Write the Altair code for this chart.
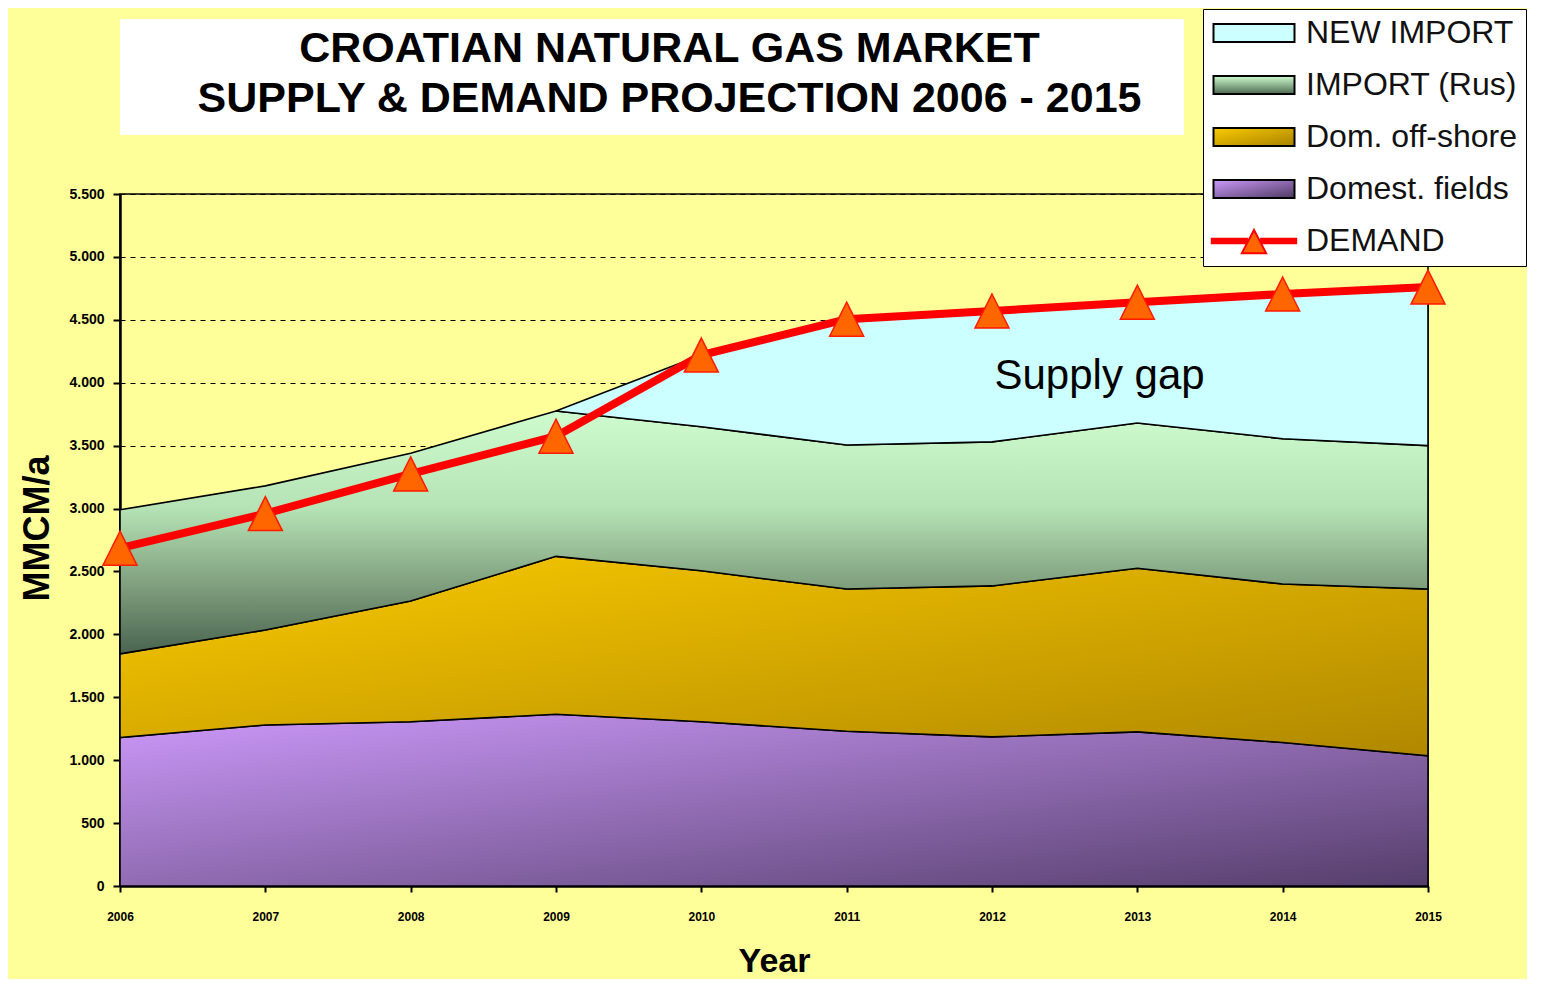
import altair as alt
import pandas as pd

# ---------------- data ----------------
years = [2006, 2007, 2008, 2009, 2010, 2011, 2012, 2013, 2014, 2015]
domestic_fields = [1180, 1280, 1305, 1365, 1305, 1230, 1185, 1225, 1140, 1035]
dom_offshore = [665, 755, 960, 1255, 1200, 1130, 1200, 1300, 1260, 1325]
import_rus = [1145, 1145, 1175, 1155, 1145, 1145, 1145, 1155, 1155, 1140]
new_import = [None, None, None, 0, 570, 1000, 1040, 960, 1150, 1260]
demand = [2685, 2960, 3275, 3575, 4220, 4505, 4570, 4640, 4705, 4760]

series_names = ["NEW IMPORT", "IMPORT (Rus)", "Dom. off-shore", "Domest. fields", "DEMAND"]
title_lines = ["CROATIAN NATURAL GAS MARKET", "SUPPLY & DEMAND PROJECTION 2006 - 2015"]
y_ticks = [0, 500, 1000, 1500, 2000, 2500, 3000, 3500, 4000, 4500, 5000, 5500]
note_text = ["Supply gap"]
note_year = [2012.74]
note_value = [4050]

# ---------------- tables built from the arrays ----------------
rows = []
for i, yr in enumerate(years):
    lo = 0
    for name, vals in [("Domest. fields", domestic_fields),
                       ("Dom. off-shore", dom_offshore),
                       ("IMPORT (Rus)", import_rus),
                       ("NEW IMPORT", new_import)]:
        v = vals[i]
        if v is None:
            continue
        rows.append({"year": yr, "series": name, "lo": lo, "hi": lo + v})
        lo = lo + v
stack_df = pd.DataFrame(rows)
demand_df = pd.DataFrame({"year": years, "hi": demand, "series": ["DEMAND"] * len(years)})
note_df = pd.DataFrame({"year": note_year, "hi": note_value, "t": note_text})

FONT = "Liberation Sans"

x_enc = alt.X(
    "year:Q",
    title="Year",
    scale=alt.Scale(domain=[2006, 2015], nice=False, zero=False),
    axis=alt.Axis(
        values=years, format="d", grid=False, labelFlush=False,
        labelFont=FONT, labelFontSize=12, labelFontWeight="bold", labelColor="black",
        labelPadding=19, tickSize=6, tickColor="black", tickWidth=2,
        domainColor="black", domainWidth=2.5,
        titleFont=FONT, titleFontSize=34, titleFontWeight="bold", titleColor="black",
        titlePadding=22,
    ),
)
y_enc = alt.Y(
    "hi:Q",
    title="MMCM/a",
    scale=alt.Scale(domain=[0, 5500], nice=False),
    axis=alt.Axis(
        values=y_ticks, labelFlush=False,
        labelExpr="replace(format(datum.value, ','), ',', '.')",
        labelFont=FONT, labelFontSize=14, labelFontWeight="bold", labelColor="black",
        labelPadding=9, tickSize=7, tickColor="black", tickWidth=2,
        domainColor="black", domainWidth=2.5,
        grid=True, gridColor="black", gridDash=[5, 5], gridWidth=1.2, gridOpacity=1,
        titleFont=FONT, titleFontSize=36, titleFontWeight="bold", titleColor="black",
        titlePadding=12, titleY=334,
    ),
)


def grad(stops, x2=1, y2=1):
    return alt.Gradient(
        gradient="linear",
        stops=[alt.GradientStop(color=c, offset=o) for o, c in stops],
        x1=0, y1=0, x2=x2, y2=y2,
    )


fills = {
    "Domest. fields": grad([(0, "#CC99FA"), (1, "#553E6B")]),
    "Dom. off-shore": grad([(0, "#FACA00"), (1, "#B08800")]),
    "IMPORT (Rus)": grad([(0, "#CEFCCE"), (0.4, "#B5E3B5"), (0.75, "#7A9878"), (1, "#4A6450")], x2=0, y2=1),
    "NEW IMPORT": "#CCFFFF",
}

layers = []
for name in ["Domest. fields", "Dom. off-shore", "IMPORT (Rus)", "NEW IMPORT"]:
    layers.append(
        alt.Chart(stack_df)
        .transform_filter(alt.datum.series == name)
        .mark_area(fill=fills[name], stroke="black", strokeWidth=1.6, opacity=1)
        .encode(x=x_enc, y=y_enc, y2="lo:Q")
    )

demand_line = alt.Chart(demand_df).mark_line(color="#FF0000", strokeWidth=8).encode(x=x_enc, y=y_enc)
demand_pts = alt.Chart(demand_df).mark_point(
    shape="M0,-1L1,1L-1,1Z", size=1156, filled=True, fill="#FF6600",
    stroke="#FF1A00", strokeWidth=1.5, opacity=1,
).encode(x=x_enc, y=y_enc)

note = alt.Chart(note_df).mark_text(font=FONT, fontSize=42, color="black").encode(
    x=x_enc, y=y_enc, text="t:N"
)

# ---------------- legend ----------------
rect_path = "M-1,-0.667L5,-0.667L5,0.667L-1,0.667Z"
demand_path = ("M-1.2,-0.17L1.55,-0.17M-1.2,-0.06L1.55,-0.06M-1.2,0.06L1.55,0.06M-1.2,0.17L1.55,0.17"
               "M2.45,-0.17L5.2,-0.17M2.45,-0.06L5.2,-0.06M2.45,0.06L5.2,0.06M2.45,0.17L5.2,0.17"
               "M2,-0.82L2.9,0.9L1.1,0.9Z")
legend_shapes = [rect_path, rect_path, rect_path, rect_path, demand_path]

fill_expr = (
    "datum.value === 'IMPORT (Rus)' ? {gradient: 'linear', x1: 0, y1: 0, x2: 0, y2: 1, "
    "stops: [{offset: 0, color: '#CEFCCE'}, {offset: 1, color: '#4E6A52'}]} : "
    "datum.value === 'Dom. off-shore' ? {gradient: 'linear', x1: 0, y1: 0, x2: 1, y2: 1, "
    "stops: [{offset: 0, color: '#FACA00'}, {offset: 1, color: '#A88200'}]} : "
    "datum.value === 'Domest. fields' ? {gradient: 'linear', x1: 0, y1: 0, x2: 1, y2: 1, "
    "stops: [{offset: 0, color: '#CC99FA'}, {offset: 1, color: '#4E3A62'}]} : "
    "datum.value === 'NEW IMPORT' ? '#CCFFFF' : '#FF6600'"
)
stroke_expr = "datum.value === 'DEMAND' ? '#FF0000' : '#000000'"

legend_def = alt.Legend(
    title=None, orient="none", legendX=1083, legendY=-10,
    fillColor="white", strokeColor="black", padding=8,
    symbolSize=729, symbolStrokeWidth=2, symbolOpacity=1,
    labelFont=FONT, labelFontSize=32, labelColor="#111111", labelOffset=63,
    labelLimit=400, rowPadding=20,
)

legend_layer = (
    alt.Chart(demand_df)
    .transform_filter("false")
    .mark_point(filled=True, opacity=1,
                fill=alt.ExprRef(expr=fill_expr), stroke=alt.ExprRef(expr=stroke_expr))
    .encode(
        shape=alt.Shape("series:N", scale=alt.Scale(domain=series_names, range=legend_shapes), legend=legend_def),
    )
)

main = alt.layer(*layers, demand_line, demand_pts, note, legend_layer).properties(width=1308, height=692)

title_df = pd.DataFrame({"t": ["\n".join(title_lines)]})
title_view = (
    alt.Chart(title_df)
    .mark_text(font=FONT, fontSize=43, fontWeight="bold", lineBreak="\n", lineHeight=50,
               align="center", baseline="middle", dx=18, dy=-28, color="black")
    .encode(text="t:N")
    .properties(width=1063, height=115, view=alt.ViewBackground(fill="white", stroke="white"))
)

chart = (
    alt.vconcat(title_view, main, spacing=60, bounds="flush")
    .properties(padding={"left": 11, "top": 0, "right": 0, "bottom": 0})
    .configure(background="#FFFF99")
    .configure_view(fill="white", stroke="black", strokeWidth=1.5)
)

chart.save("out.html", embed_options={"renderer": "svg", "actions": False})
